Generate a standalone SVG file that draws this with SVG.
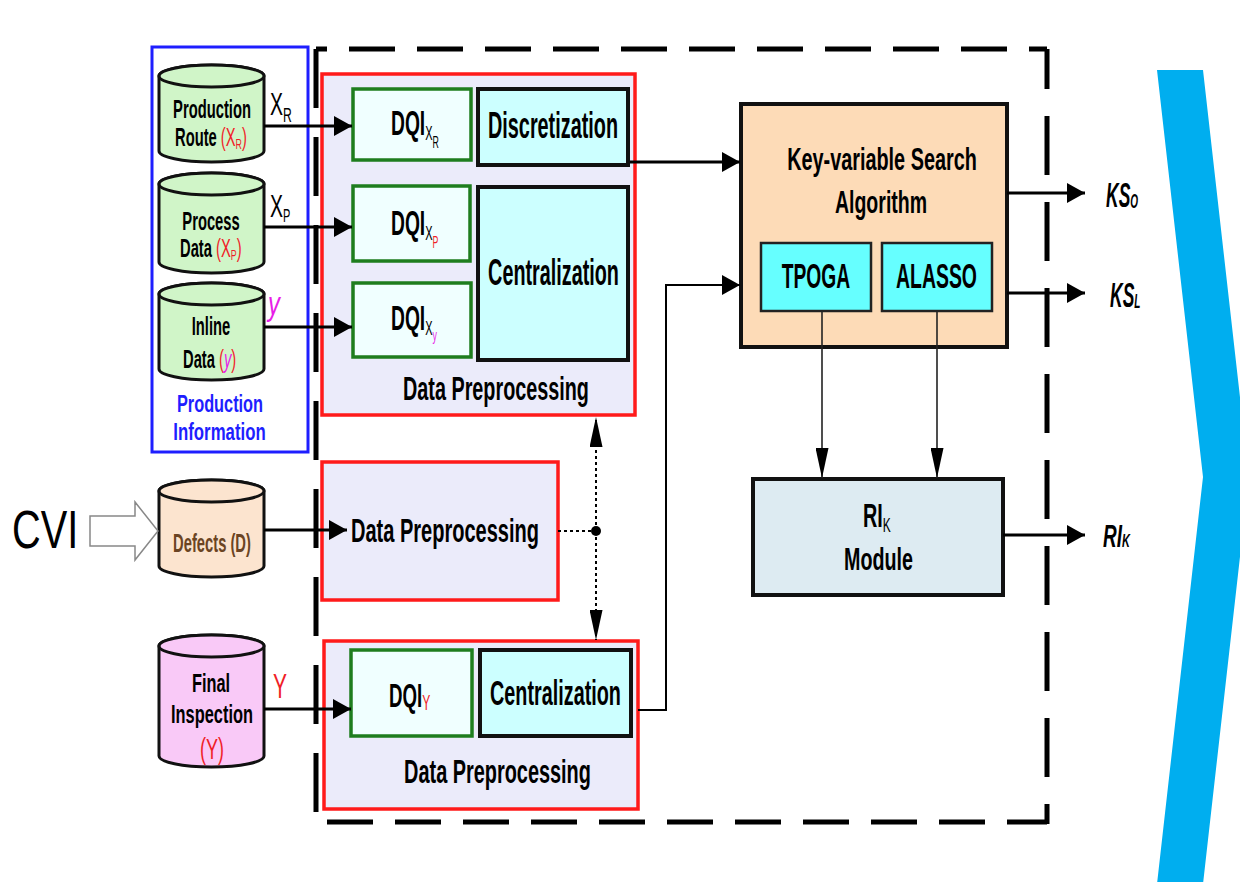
<svg xmlns="http://www.w3.org/2000/svg" width="1240" height="882" viewBox="0 0 1240 882">
<defs>
<style>
.t{font-family:"Liberation Sans",Arial,sans-serif;font-weight:bold;fill:#000;text-anchor:middle}
.s{text-anchor:start}
.n{font-weight:normal}
.red{fill:#F01E28}
.mag{fill:#E81EE8}
.blue{fill:#1E1EFF}
.it{font-style:italic}
.cyl{stroke:#111;stroke-width:3}
.redbox{fill:#EBEBFA;stroke:#FF1A1A;stroke-width:3.5}
.green{fill:#F0FFFF;stroke:#1E7D1E;stroke-width:3.5}
.cyan{fill:#CCFFFF;stroke:#111;stroke-width:4}
.alg{fill:#66FFFF;stroke:#222;stroke-width:2.5}
.ln{fill:none;stroke:#000;stroke-width:3}
.thin{fill:none;stroke:#222;stroke-width:1.6}
.dot{fill:none;stroke:#000;stroke-width:2;stroke-dasharray:3 3}
.frame{fill:none;stroke:#000;stroke-width:5}
</style>
<marker id="ah" markerUnits="userSpaceOnUse" markerWidth="18" markerHeight="20" refX="18" refY="10" orient="auto"><path d="M0,0 L18,10 L0,20 z" fill="#000"/></marker>
<marker id="ahl" markerUnits="userSpaceOnUse" markerWidth="30" markerHeight="13" refX="30" refY="6.5" orient="auto"><path d="M0,0 L30,6.5 L0,13 z" fill="#000"/></marker>
</defs>
<rect width="1240" height="882" fill="#fff"/>

<!-- blue chevron -->
<polygon points="1157,70 1203,70 1249,477 1203,884 1157,884 1203,477" fill="#00AEEF"/>

<!-- dashed frame -->
<g id="frame">
<line class="frame" x1="316" y1="49" x2="1047" y2="49" stroke-dasharray="46 22" stroke-dashoffset="35"/>
<line class="frame" x1="316" y1="822" x2="1047" y2="822" stroke-dasharray="46 22" stroke-dashoffset="57"/>
<line class="frame" x1="316" y1="49" x2="316" y2="815" stroke-dasharray="59 29"/>
<line class="frame" x1="1047" y1="49" x2="1047" y2="824" stroke-dasharray="59 27" stroke-dashoffset="19"/>
</g>

<!-- production information group -->
<g id="prod-info">
<rect x="152" y="47" width="156" height="405" fill="none" stroke="#1E1EFF" stroke-width="3"/>
<text class="t blue" font-size="24" transform="translate(220,412) scale(0.68,1)">Production</text>
<text class="t blue" font-size="24" transform="translate(219.5,440) scale(0.7,1)">Information</text>
</g>

<g id="cyl-route">
<path class="cyl" fill="#D0F5C8" d="M159,76 A52.5,11 0 0 1 264,76 V151 A52.5,11 0 0 1 159,151 Z"/>
<ellipse class="cyl" fill="#D0F5C8" cx="211.5" cy="76" rx="52.5" ry="11"/>
<text class="t" font-size="25" transform="translate(212,118) scale(0.59,1)">Production</text>
<text class="t s" font-size="25" transform="translate(175,146) scale(0.59,1)">Route <tspan class="n red">(X</tspan><tspan class="n red" font-size="15" dy="3">R</tspan><tspan class="n red" dy="-3">)</tspan></text>
</g>

<g id="cyl-process">
<path class="cyl" fill="#D0F5C8" d="M159,184 A52.5,11 0 0 1 264,184 V262 A52.5,11 0 0 1 159,262 Z"/>
<ellipse class="cyl" fill="#D0F5C8" cx="211.5" cy="184" rx="52.5" ry="11"/>
<text class="t" font-size="25" transform="translate(211,230) scale(0.59,1)">Process</text>
<text class="t s" font-size="25" transform="translate(180,257) scale(0.59,1)">Data <tspan class="n red">(X</tspan><tspan class="n red" font-size="15" dy="3">P</tspan><tspan class="n red" dy="-3">)</tspan></text>
</g>

<g id="cyl-inline">
<path class="cyl" fill="#D0F5C8" d="M159,294 A52.5,11 0 0 1 264,294 V369 A52.5,11 0 0 1 159,369 Z"/>
<ellipse class="cyl" fill="#D0F5C8" cx="211.5" cy="294" rx="52.5" ry="11"/>
<text class="t" font-size="25" transform="translate(211,335) scale(0.59,1)">Inline</text>
<text class="t s" font-size="25" transform="translate(183,368) scale(0.59,1)">Data <tspan class="n red">(</tspan><tspan class="n it mag">y</tspan><tspan class="n red">)</tspan></text>
</g>

<g id="cyl-defects">
<path class="cyl" fill="#FCE4CF" d="M159,491 A52.5,11 0 0 1 264,491 V566 A52.5,11 0 0 1 159,566 Z"/>
<ellipse class="cyl" fill="#FCE4CF" cx="211.5" cy="491" rx="52.5" ry="11"/>
<text class="t" style="fill:#6B4423" font-size="25" transform="translate(212,552) scale(0.59,1)">Defects (D)</text>
</g>

<g id="cyl-final">
<path class="cyl" fill="#F9C9F7" d="M159,646 A52.5,11 0 0 1 264,646 V756 A52.5,11 0 0 1 159,756 Z"/>
<ellipse class="cyl" fill="#F9C9F7" cx="211.5" cy="646" rx="52.5" ry="11"/>
<text class="t" font-size="26" transform="translate(211,692) scale(0.63,1)">Final</text>
<text class="t" font-size="26" transform="translate(212,723) scale(0.63,1)">Inspection</text>
<text class="t n red" font-size="30" transform="translate(212,759) scale(0.6,1)">(Y)</text>
</g>

<g id="cvi">
<text class="t s n" font-size="53" transform="translate(12,548) scale(0.75,1)">CVI</text>
<polygon points="90,516 135,516 135,502 158,531 135,560 135,546 90,546" fill="#fff" stroke="#888" stroke-width="1.5"/>
</g>

<!-- data preprocessing top -->
<g id="dp1">
<rect class="redbox" x="322" y="74" width="313" height="341"/>
<text class="t" font-size="33" transform="translate(496,400) scale(0.6,1)">Data Preprocessing</text>
</g>
<g id="dqi-xr">
<rect class="green" x="353" y="89" width="118" height="71"/>
<text class="t s" font-size="35" transform="translate(391,135) scale(0.55,1)">DQI<tspan font-size="20" class="n" dy="5">X</tspan><tspan font-size="16" class="n" dy="8">R</tspan></text>
</g>
<g id="dqi-xp">
<rect class="green" x="353" y="186" width="117" height="75"/>
<text class="t s" font-size="35" transform="translate(391,235) scale(0.55,1)">DQI<tspan font-size="20" class="n" dy="5">X</tspan><tspan font-size="16" class="n red" dy="8">P</tspan></text>
</g>
<g id="dqi-xy">
<rect class="green" x="353" y="283" width="118" height="74"/>
<text class="t s" font-size="35" transform="translate(391,330) scale(0.55,1)">DQI<tspan font-size="20" class="n" dy="5">X</tspan><tspan font-size="16" class="n mag" dy="6">y</tspan></text>
</g>
<g id="discretization">
<rect class="cyan" x="478" y="89" width="150" height="76"/>
<text class="t" font-size="37" transform="translate(553,138) scale(0.536,1)">Discretization</text>
</g>
<g id="centralization1">
<rect class="cyan" x="478" y="187" width="150" height="173"/>
<text class="t" font-size="37" transform="translate(553.5,285) scale(0.535,1)">Centralization</text>
</g>

<!-- data preprocessing middle -->
<g id="dp2">
<rect class="redbox" x="322" y="462" width="236" height="138"/>
<text class="t" font-size="34" transform="translate(445,542) scale(0.589,1)">Data Preprocessing</text>
</g>

<!-- data preprocessing bottom -->
<g id="dp3">
<rect class="redbox" x="324" y="641" width="314" height="168"/>
<text class="t" font-size="33" transform="translate(497.5,783) scale(0.603,1)">Data Preprocessing</text>
</g>
<g id="dqi-y">
<rect class="green" x="351" y="650" width="121" height="86"/>
<text class="t s" font-size="34" transform="translate(389,707) scale(0.55,1)">DQI<tspan font-size="22" class="n red" dy="3">Y</tspan></text>
</g>
<g id="centralization2">
<rect class="cyan" x="480" y="650" width="151" height="86"/>
<text class="t" font-size="35" transform="translate(555.5,705) scale(0.566,1)">Centralization</text>
</g>

<!-- key variable search -->
<g id="kvs">
<rect x="741" y="104" width="266" height="243" fill="#FDDBB7" stroke="#111" stroke-width="4"/>
<text class="t" font-size="32" transform="translate(882,170) scale(0.62,1)">Key-variable Search</text>
<text class="t" font-size="32" transform="translate(881,213) scale(0.61,1)">Algorithm</text>
</g>
<g id="tpoga">
<rect class="alg" x="761" y="243" width="110" height="68"/>
<text class="t" font-size="35" transform="translate(816,288) scale(0.55,1)">TPOGA</text>
</g>
<g id="alasso">
<rect class="alg" x="882" y="243" width="110" height="68"/>
<text class="t" font-size="35" transform="translate(936.5,288) scale(0.555,1)">ALASSO</text>
</g>
<g id="rik">
<rect x="753" y="479" width="250" height="116" fill="#DDEBF2" stroke="#111" stroke-width="4"/>
<text class="t s" font-size="33" transform="translate(863,527) scale(0.6,1)">RI<tspan font-size="20" class="n" dy="5">K</tspan></text>
<text class="t" font-size="31" transform="translate(878.5,570) scale(0.636,1)">Module</text>
</g>

<!-- input labels -->
<g id="labels">
<text class="t s n" font-size="32" transform="translate(270,115) scale(0.61,1)">X<tspan font-size="20" dy="7">R</tspan></text>
<text class="t s n" font-size="32" transform="translate(270,217) scale(0.61,1)">X<tspan font-size="18" dy="5">P</tspan></text>
<text class="t s n it mag" font-size="34" transform="translate(268,315) scale(0.7,1)">y</text>
<text class="t s n red" font-size="35" transform="translate(273,698) scale(0.6,1)">Y</text>
<text class="t s it" font-size="35" transform="translate(1106,207) scale(0.5,1)">KS<tspan font-size="20" dy="1">O</tspan></text>
<text class="t s it" font-size="35" transform="translate(1110,307) scale(0.5,1)">KS<tspan font-size="20" dy="1">L</tspan></text>
<text class="t s it" font-size="31" transform="translate(1103,547) scale(0.61,1)">RI<tspan font-size="18" dy="0">K</tspan></text>
</g>

<!-- connectors -->
<g id="connectors">
<path class="ln" d="M264,126 H352" marker-end="url(#ah)"/>
<path class="ln" d="M264,227 H352" marker-end="url(#ah)"/>
<path class="ln" d="M264,327 H352" marker-end="url(#ah)"/>
<path class="ln" d="M264,530 H347" marker-end="url(#ah)"/>
<path class="ln" d="M264,709 H351" marker-end="url(#ah)"/>
<path class="ln" d="M630,162 H740" marker-end="url(#ah)"/>
<path class="ln" style="stroke-width:2" d="M638,710 H666 V285 H740" marker-end="url(#ah)"/>
<path class="ln" d="M1007,193 H1085" marker-end="url(#ah)"/>
<path class="ln" d="M1007,293 H1085" marker-end="url(#ah)"/>
<path class="ln" d="M1003,535 H1085" marker-end="url(#ah)"/>
<path class="thin" d="M822,311 V478" marker-end="url(#ahl)"/>
<path class="thin" d="M937,311 V478" marker-end="url(#ahl)"/>
<path class="dot" d="M558,531 H596"/>
<path class="dot" d="M596,531 V417" marker-end="url(#ahl)"/>
<path class="dot" d="M596,531 V640" marker-end="url(#ahl)"/>
<circle cx="596" cy="531" r="5" fill="#000"/>
</g>
</svg>
